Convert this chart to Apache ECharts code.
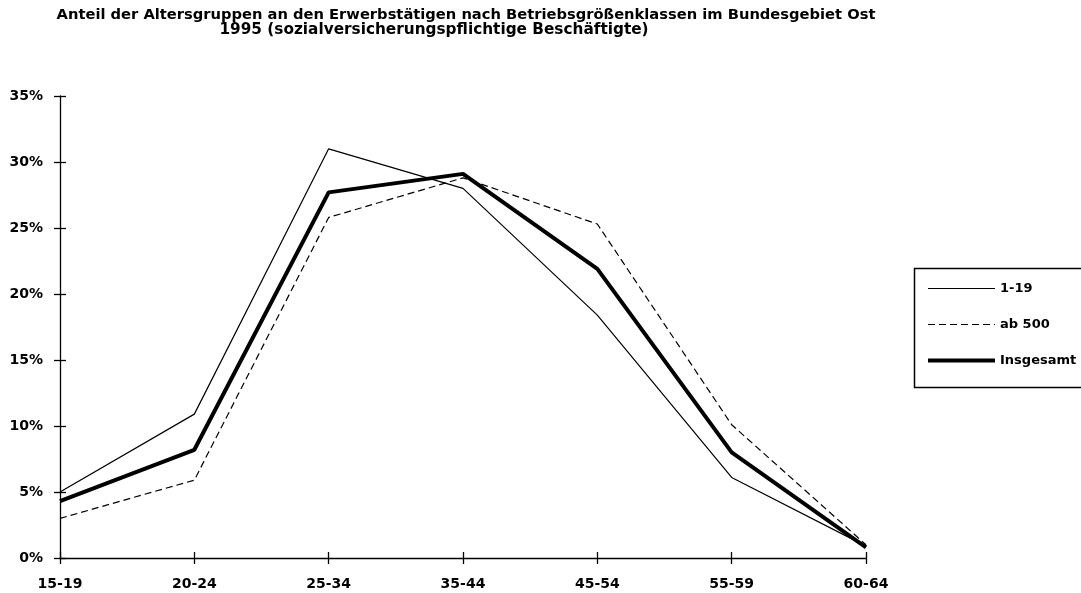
<!DOCTYPE html>
<html>
<head>
<meta charset="utf-8">
<script src="https://cdn.jsdelivr.net/npm/echarts@6/dist/echarts.min.js"></script>
<style>
  html, body {margin: 0; padding: 0; background: #fff;}
  #chart {width: 1081px; height: 593px;}
</style>
</head>
<body>
<div id="chart"></div>
<script>
const categories = ['15-19', '20-24', '25-34', '35-44', '45-54', '55-59', '60-64'];
const seriesNames = ['1-19', 'ab 500', 'Insgesamt'];
const small = [5.0, 10.9, 31.0, 28.0, 18.4, 6.1, 0.9];
const large = [3.0, 5.9, 25.8, 28.8, 25.3, 10.1, 1.0];
const total = [4.3, 8.2, 27.7, 29.1, 21.9, 8.0, 0.8];
const yTicks = [0, 5, 10, 15, 20, 25, 30, 35];
const titleLines = [
    'Anteil der Altersgruppen an den Erwerbstätigen nach Betriebsgrößenklassen im Bundesgebiet Ost',
    '1995 (sozialversicherungspflichtige Beschäftigte)',
];

const FONT = 'DejaVu Sans';
const labelStyle = {color: '#000', fontSize: 14, fontWeight: 'bold', fontFamily: FONT};
const lineWidths = [1.2, 1.2, 4];
const lineTypes = ['solid', [7, 4], 'solid'];

const chart = echarts.init(document.getElementById('chart'));

// two copies of each axis so the ticks cross the axis line
const makeX = (inside) => ({
    type: 'category',
    data: categories,
    boundaryGap: false,
    position: 'bottom',
    axisLine: {show: !inside, lineStyle: {color: '#000', width: 1.3}},
    axisTick: {show: true, inside, length: 6, lineStyle: {color: '#000', width: 1.3}},
    axisLabel: inside ? {show: false} : {...labelStyle, margin: 19},
    splitLine: {show: false},
});

const makeY = (inside) => ({
    type: 'value',
    min: yTicks[0],
    max: yTicks[yTicks.length - 1],
    interval: 5,
    position: 'left',
    axisLine: {show: !inside, lineStyle: {color: '#000', width: 1.3}},
    axisTick: {show: true, inside, length: 6, lineStyle: {color: '#000', width: 1.3}},
    axisLabel: inside ? {show: false} : {...labelStyle, margin: 17, formatter: (v) => `${v}%`},
    splitLine: {show: false},
});

const line = (i, data) => ({
    name: seriesNames[i],
    type: 'line',
    data,
    xAxisIndex: 0,
    yAxisIndex: 0,
    symbol: 'none',
    silent: true,
    color: '#000',
    lineStyle: {color: '#000', width: lineWidths[i], type: lineTypes[i]},
    z: lineWidths[i] > 2 ? 4 : 3,
});

chart.setOption({
    animation: false,
    backgroundColor: '#fff',
    grid: {left: 60, right: 215, top: 96, bottom: 35},
    xAxis: [makeX(false), makeX(true)],
    yAxis: [makeY(false), makeY(true)],
    legend: {
        orient: 'vertical',
        left: 921,
        top: 277,
        itemWidth: 67,
        itemHeight: 14,
        itemGap: 23,
        data: seriesNames.map((name, i) => ({
            name,
            lineStyle: {color: '#000', width: lineWidths[i], type: lineTypes[i]},
        })),
        itemStyle: {opacity: 0},
        textStyle: {...labelStyle, fontSize: 13},
    },
    graphic: [
        {
            type: 'text',
            x: 466,
            y: 8,
            style: {text: titleLines[0], ...labelStyle, fontSize: 14.7, align: 'center', verticalAlign: 'top'},
        },
        {
            type: 'text',
            x: 434,
            y: 23,
            style: {text: titleLines[1], ...labelStyle, fontSize: 15.3, align: 'center', verticalAlign: 'top'},
        },
        {
            type: 'rect',
            left: 912,
            top: 266,
            shape: {width: 180, height: 119},
            style: {fill: 'none', stroke: '#000', lineWidth: 1.5},
        },
    ],
    series: [
        line(0, small),
        line(1, large),
        line(2, total),
    ],
});
</script>
</body>
</html>
